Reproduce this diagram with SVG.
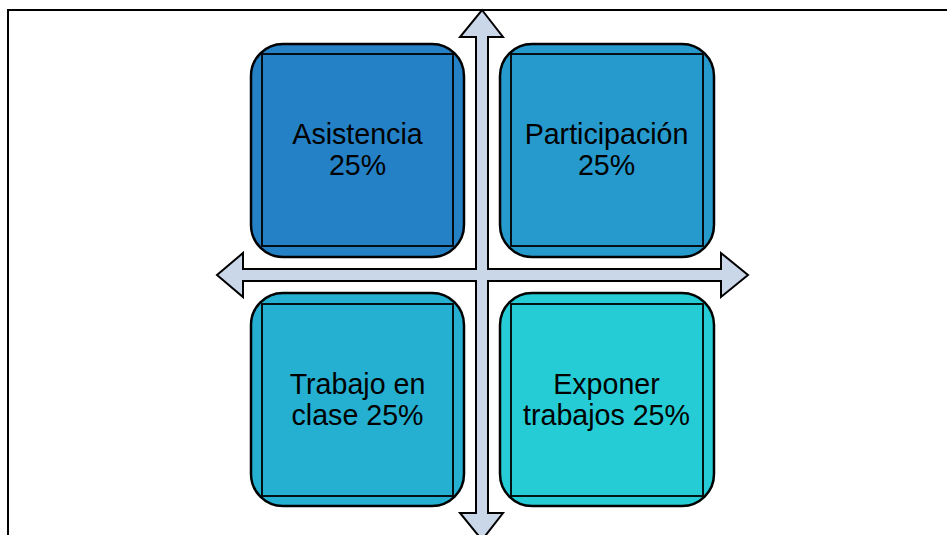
<svg xmlns="http://www.w3.org/2000/svg" width="947" height="535" viewBox="0 0 947 535">
<style>
.outer{stroke:#000;stroke-width:2.5}
.inner{fill:none;stroke:#000;stroke-width:1.8}
.lbl{font-family:"Liberation Sans",Arial,sans-serif;font-size:28.6px;fill:#000;text-anchor:middle}
</style>
<rect width="947" height="535" fill="#fff"/>
<path d="M8,535 V10 H947" fill="none" stroke="#000" stroke-width="2"/>
<g id="connectors">
<polygon points="482,10 503,37 488,37 488,269 721,269 721,253 748,275 721,297 721,281 488,281 488,513 503,513 482,540 460,513 476,513 476,281 243,281 243,297 217,275 243,253 243,269 476,269 476,37 460,37" fill="#CAD7E9" stroke="#000" stroke-width="2" stroke-linejoin="miter"/>
</g>
<g id="asistencia">
<rect class="outer" x="251" y="44" width="213" height="213" rx="32" fill="#2581C6"/>
<rect class="inner" x="262" y="54" width="191" height="192"/>
<text class="lbl" x="357.5" y="144">Asistencia</text>
<text class="lbl" x="357.5" y="175">25%</text>
</g>
<g id="participacion">
<rect class="outer" x="500" y="44" width="214" height="213" rx="32" fill="#269ACC"/>
<rect class="inner" x="511" y="54" width="192" height="192"/>
<text class="lbl" x="606.5" y="144">Participación</text>
<text class="lbl" x="606.5" y="175">25%</text>
</g>
<g id="trabajo">
<rect class="outer" x="251" y="293" width="213" height="213" rx="32" fill="#25B0D1"/>
<rect class="inner" x="262" y="304" width="191" height="192"/>
<text class="lbl" x="357.5" y="394">Trabajo en</text>
<text class="lbl" x="357.5" y="425">clase 25%</text>
</g>
<g id="exponer">
<rect class="outer" x="500" y="293" width="214" height="213" rx="32" fill="#26CCD5"/>
<rect class="inner" x="511" y="304" width="192" height="192"/>
<text class="lbl" x="606.5" y="394">Exponer</text>
<text class="lbl" x="606.5" y="425">trabajos 25%</text>
</g>
</svg>
